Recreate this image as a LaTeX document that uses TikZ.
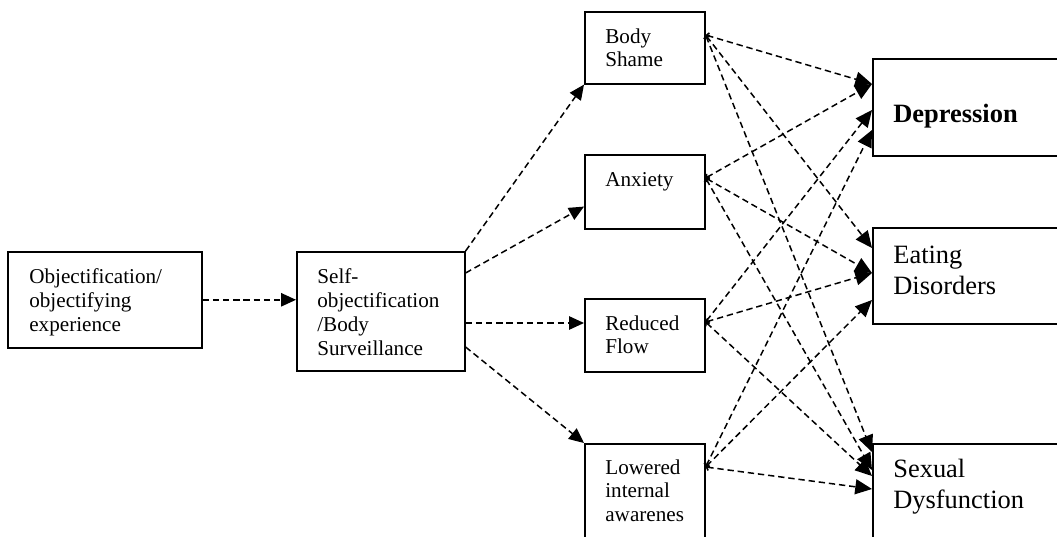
\documentclass[tikz,border=0pt]{standalone}
\usepackage{fontspec}
\setmainfont{Liberation Serif}
\usetikzlibrary{arrows.meta}
\newlength{\pxu}
\setlength{\pxu}{0.5675pt}

\begin{document}
\begin{tikzpicture}[x=0.5675pt, y=-0.5675pt,
  box/.style={draw, line width=0.9pt, anchor=north west, inner sep=0pt},
  txt/.style={anchor=north west, inner sep=0pt, align=left, font=\fontsize{12}{13.6}\selectfont},
  bigtxt/.style={txt, font=\fontsize{15}{17.6}\selectfont},
  link/.style={line width=0.85pt, dash pattern=on 3.6pt off 2.2pt, -{Triangle[length=8.5pt,width=7.6pt]}},
  cross/.style={link, {Straight Barb[length=1.2pt,width=3.5pt]}-{Triangle[length=9.5pt,width=8.5pt]}}]
\useasboundingbox (0,0) rectangle (1057,537);
% boxes
\node[box, minimum width=194\pxu, minimum height=96\pxu] (obj) at (7,251) {};
\node[box, minimum width=168\pxu, minimum height=119\pxu] (self) at (296,251) {};
\node[box, minimum width=120\pxu, minimum height=72\pxu] (bs) at (584,11) {};
\node[box, minimum width=120\pxu, minimum height=74\pxu] (anx) at (584,154) {};
\node[box, minimum width=120\pxu, minimum height=73\pxu] (rf) at (584,298) {};
\node[box, minimum width=120\pxu, minimum height=104\pxu] (low) at (584,443) {};
\node[box, minimum width=192\pxu, minimum height=97\pxu] (dep) at (872,58) {};
\node[box, minimum width=192\pxu, minimum height=96\pxu] (eat) at (872,227) {};
\node[box, minimum width=192\pxu, minimum height=104\pxu] (sex) at (872,443) {};
% texts
\node[txt] (objT) at ([shift={(22,17)}]obj.north west) {Objectification/\\objectifying\\experience};
\node[txt] (selfT) at ([shift={(21,17)}]self.north west) {Self-\\objectification\\/Body\\Surveillance};
\node[txt] (bsT) at ([shift={(21,17)}]bs.north west) {Body\\Shame};
\node[txt] (anxT) at ([shift={(21,18)}]anx.north west) {Anxiety};
\node[txt] (rfT) at ([shift={(21,17)}]rf.north west) {Reduced\\Flow};
\node[txt] (lowT) at ([shift={(21,16)}]low.north west) {Lowered\\internal\\awarenes};
\node[bigtxt] (depT) at ([shift={(21,46)}]dep.north west) {\textbf{Depression}};
\node[bigtxt] (eatT) at ([shift={(21,19)}]eat.north west) {Eating\\Disorders};
\node[bigtxt] (sexT) at ([shift={(21,16)}]sex.north west) {Sexual\\Dysfunction};
% left part
\draw[link] (obj.east) -- (obj.east -| self.west);
\draw[link] (self.north east) -- (bs.south west);
\draw[link] ([shift={(0,22)}]self.north east) -- ([shift={(0,-23)}]anx.south west);
\draw[link] ([shift={(0,72)}]self.north east) -- ([shift={(0,25)}]rf.north west);
\draw[link] ([shift={(0,96)}]self.north east) -- (low.north west);
% sources on the right side of the middle boxes
\coordinate (bsO) at ([shift={(0,24)}]bs.north east);
\coordinate (anxO) at ([shift={(0,24)}]anx.north east);
\coordinate (rfO) at ([shift={(0,24)}]rf.north east);
\coordinate (lowO) at ([shift={(0,24)}]low.north east);
% to depression
\draw[cross] (bsO) -- ([shift={(0,26)}]dep.north west);
\draw[cross] (anxO) -- ([shift={(0,26)}]dep.north west);
\draw[cross] (rfO) -- ([shift={(0,52)}]dep.north west);
\draw[cross] (lowO) -- ([shift={(0,72)}]dep.north west);
% to eating disorders
\draw[cross] (bsO) -- ([shift={(0,21)}]eat.north west);
\draw[cross] (anxO) -- ([shift={(0,46)}]eat.north west);
\draw[cross] (rfO) -- ([shift={(0,46)}]eat.north west);
\draw[cross] (lowO) -- ([shift={(0,73)}]eat.north west);
% to sexual dysfunction
\draw[cross] (bsO) -- ([shift={(0,9)}]sex.north west);
\draw[cross] (anxO) -- ([shift={(0,27)}]sex.north west);
\draw[cross] (rfO) -- ([shift={(0,33)}]sex.north west);
\draw[cross] (lowO) -- ([shift={(0,46)}]sex.north west);
\end{tikzpicture}
\end{document}
